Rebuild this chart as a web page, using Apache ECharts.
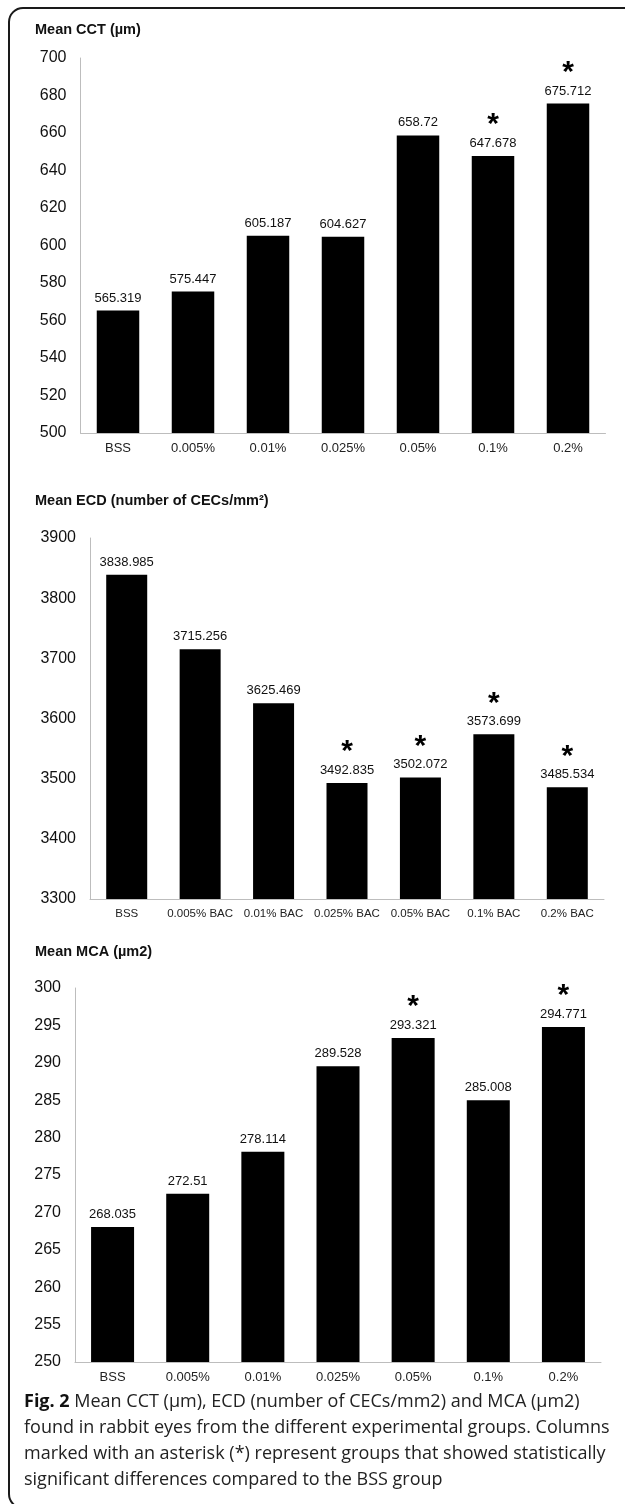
<!DOCTYPE html>
<html>
<head>
<meta charset="utf-8">
<script src="https://cdn.jsdelivr.net/npm/echarts@6/dist/echarts.min.js"></script>
<style>
html,body{margin:0;padding:0;background:#fff;}
#c{width:625px;height:1504px;}
</style>
</head>
<body>
<div id="c"></div>
<script>
// ---- data ----
const cctCategories = ['BSS','0.005%','0.01%','0.025%','0.05%','0.1%','0.2%'];
const cctValues = [565.319, 575.447, 605.187, 604.627, 658.72, 647.678, 675.712];
const cctSignificant = [0,0,0,0,0,1,1];

const ecdCategories = ['BSS','0.005% BAC','0.01% BAC','0.025% BAC','0.05% BAC','0.1% BAC','0.2% BAC'];
const ecdValues = [3838.985, 3715.256, 3625.469, 3492.835, 3502.072, 3573.699, 3485.534];
const ecdSignificant = [0,0,0,1,1,1,1];

const mcaCategories = ['BSS','0.005%','0.01%','0.025%','0.05%','0.1%','0.2%'];
const mcaValues = [268.035, 272.51, 278.114, 289.528, 293.321, 285.008, 294.771];
const mcaSignificant = [0,0,0,0,1,0,1];

const titles = ['Mean CCT (µm)', 'Mean ECD (number of CECs/mm²)', 'Mean MCA (µm2)'];
const captionBold = 'Fig. 2';
const captionLines = [
  ' Mean CCT (µm), ECD (number of CECs/mm2) and MCA (µm2)',
  'found in rabbit eyes from the different experimental groups. Columns',
  'marked with an asterisk (*) represent groups that showed statistically',
  'significant differences compared to the BSS group'
];

// ---- layout ----
const H = 1504;
const grids = [
  {left: 80.5, right: 19.5, top: 58, height: 375},
  {left: 90, right: 21, top: 538, height: 361},
  {left: 75, right: 24, top: 988, height: 374}
];
const yRanges = [[500,700,20],[3300,3900,100],[250,300,5]];
const barWidths = [42.5, 41, 43];
const titleY = [31, 502, 953];
const cats = [cctCategories, ecdCategories, mcaCategories];
const vals = [cctValues, ecdValues, mcaValues];
const sigs = [cctSignificant, ecdSignificant, mcaSignificant];
const FONT = '"Liberation Sans", Arial, sans-serif';

const option = {
  animation: false,
  backgroundColor: '#fff',
  grid: grids.map(g => ({left: g.left, right: g.right, top: g.top, height: g.height, containLabel: false})),
  xAxis: cats.map((c, i) => ({
    type: 'category', gridIndex: i, data: c,
    axisLine: {lineStyle: {color: '#bdbdbd', width: 1}},
    axisTick: {show: false},
    axisLabel: {color: '#222', fontSize: i === 1 ? 11.5 : 13, fontFamily: FONT, margin: 9, interval: 0}
  })),
  yAxis: yRanges.map((r, i) => ({
    type: 'value', gridIndex: i, min: r[0], max: r[1], interval: r[2],
    axisLine: {show: true, lineStyle: {color: '#bdbdbd', width: 1}},
    axisTick: {show: false},
    splitLine: {show: false},
    axisLabel: {color: '#111', fontSize: 16, fontFamily: FONT, margin: 14, formatter: v => String(v)}
  })),
  series: vals.map((v, i) => ({
    type: 'bar', xAxisIndex: i, yAxisIndex: i,
    data: v,
    barWidth: barWidths[i],
    itemStyle: {color: '#000'},
    label: {
      show: true, position: 'top', distance: 5,
      fontFamily: FONT, fontSize: 13, color: '#111',
      formatter: p => sigs[i][p.dataIndex] ? '{a|*}\n{v|' + p.value + '}' : '{v|' + p.value + '}',
      rich: {
        a: {fontSize: 30, fontWeight: 'bold', fontFamily: FONT, color: '#000', lineHeight: 26, align: 'center', padding: [0,0,-4,0]},
        v: {fontSize: 13, fontFamily: FONT, color: '#111', lineHeight: 15, align: 'center'}
      }
    }
  })),
  graphic: [
    {type: 'rect', shape: {x: 9, y: 8, width: 640, height: 1500, r: 14},
     style: {fill: 'none', stroke: '#1a1a1a', lineWidth: 2}, silent: true, z: -1},
    ...titles.map((t, i) => ({
      type: 'text', left: 35, top: titleY[i] - 9,
      style: {text: t, fontFamily: FONT, fontSize: 14.5, fontWeight: 'bold', fill: '#111'}
    })),
    ...captionLines.map((t, i) => ({
      type: 'text', left: 24, top: 1403 - 10 + i * 26,
      style: {
        text: i === 0 ? '{b|' + captionBold + '}{r|' + t + '}' : '{r|' + t + '}',
        rich: {
          b: {fontFamily: '"Open Sans", sans-serif', fontSize: 18, fontWeight: 'bold', fill: '#111'},
          r: {fontFamily: '"Open Sans", sans-serif', fontSize: 18, fill: '#222'}
        }
      }
    }))
  ]
};

const chart = echarts.init(document.getElementById('c'), null, {renderer: 'canvas', width: 625, height: H});
chart.setOption(option);
</script>
</body>
</html>
